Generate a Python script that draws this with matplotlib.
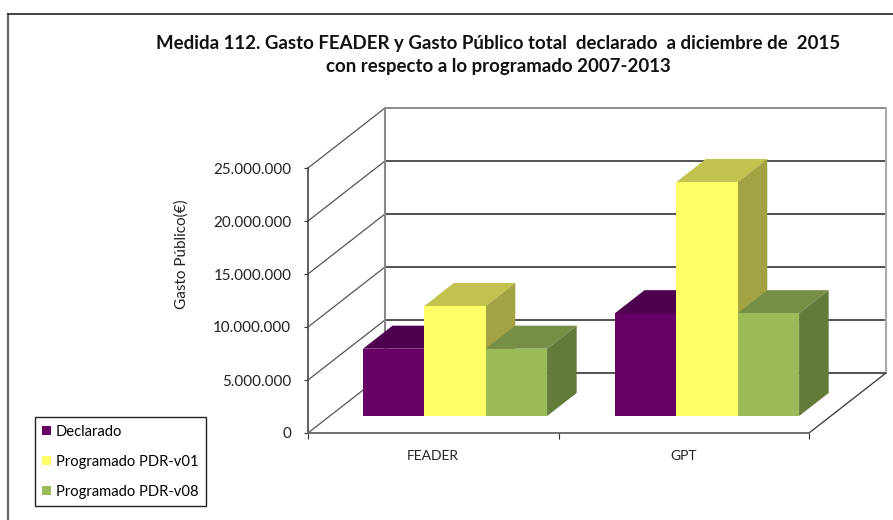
import matplotlib
matplotlib.use('Agg')
import matplotlib.pyplot as plt
from matplotlib.patches import Patch
from matplotlib.ticker import FuncFormatter

categories = ['FEADER', 'GPT']
declarado = [6350000, 9700000]
programado_v01 = [10380000, 22080000]
programado_v08 = [6350000, 9700000]
series_names = ['Declarado', 'Programado PDR-v01', 'Programado PDR-v08']
y_ticks = [0, 5000000, 10000000, 15000000, 20000000, 25000000]

W, H = 893, 520
plt.rcParams['font.family'] = ['Lato', 'DejaVu Sans']

fig = plt.figure(figsize=(W / 100, H / 100), dpi=100)

# front plane of the fake 3d box, in pixels
left, right, bottom, top = 308, 809, 433, 168
ax = fig.add_axes([left / W, 1 - bottom / H, (right - left) / W, (bottom - top) / H])
ax.set_xlim(0, 2)
ax.set_ylim(0, 25000000)
ax.patch.set_visible(False)
for s in ['top', 'right']:
    ax.spines[s].set_visible(False)
ax.spines['left'].set_color('#444444')
ax.spines['left'].set_linewidth(1.2)
ax.spines['bottom'].set_color('#666666')
ax.spines['bottom'].set_linewidth(1.3)

# depth vector, 77px right and 60px up
dx = 77 / (right - left) * 2
dy = 60 / (bottom - top) * 25000000


def proj(x, y, d):
    return x + d * dx, y + d * dy


for t in y_ticks:
    x0, y0 = proj(0, t, 0)
    x1, y1 = proj(0, t, 1)
    x2, y2 = proj(2, t, 1)
    ax.plot([x0, x1], [y0, y1], color='#555555', lw=0.9, clip_on=False, zorder=1)
    col = '#777777' if t == 25000000 else '#333333'
    ax.plot([x1, x2], [y1, y2], color=col, lw=1.2, clip_on=False, zorder=1)
# back wall verticals and floor edge
ax.plot(*zip(proj(0, 0, 1), proj(0, 25000000, 1)), color='#888888', lw=1.5, clip_on=False, zorder=1)
ax.plot(*zip(proj(2, 0, 1), proj(2, 25000000, 1)), color='#aaaaaa', lw=1.5, clip_on=False, zorder=1)
ax.plot(*zip(proj(2, 0, 0), proj(2, 0, 1)), color='#333333', lw=0.9, clip_on=False, zorder=1)

face_cols = ['#660066', '#FFFF66', '#9BBB59']
top_cols = ['#4D004D', '#C2C24E', '#778F45']
side_cols = ['#4D004D', '#A3A344', '#647A38']
bar_w = 0.245
d0, d1 = 0.283, 0.667
group_centers = [0.5, 1.506]  # the second group sits a hair right in the original


def draw_bar(x, v, i):
    xa, xb = x, x + bar_w
    # front, top and side faces, zorder rises so later bars cover earlier ones
    fr = [proj(xa, 0, d0), proj(xb, 0, d0), proj(xb, v, d0), proj(xa, v, d0)]
    tp = [proj(xa, v, d0), proj(xb, v, d0), proj(xb, v, d1), proj(xa, v, d1)]
    sd = [proj(xb, 0, d0), proj(xb, 0, d1), proj(xb, v, d1), proj(xb, v, d0)]
    z = 2 + i
    ax.fill(*zip(*tp), color=top_cols[i], lw=0, clip_on=False, zorder=z)
    ax.fill(*zip(*sd), color=side_cols[i], lw=0, clip_on=False, zorder=z)
    ax.fill(*zip(*fr), color=face_cols[i], lw=0, clip_on=False, zorder=z + 0.5)


for c in range(len(categories)):
    start = group_centers[c] - 1.5 * bar_w
    for i, vals in enumerate([declarado, programado_v01, programado_v08]):
        draw_bar(start + i * bar_w, vals[c], i)

ax.set_xticks([0, 1, 2])
ax.set_xticklabels([])
ax.set_xticks([0.5, 1.5], categories, minor=True)
ax.tick_params(axis='x', which='minor', length=0, labelsize=10, pad=12, labelcolor='#222222')
ax.tick_params(axis='x', which='major', length=4, color='#333333', direction='out')
ax.set_yticks(y_ticks)
ax.yaxis.set_major_formatter(FuncFormatter(lambda v, p: f'{int(v):,}'.replace(',', '.')))
ax.tick_params(axis='y', length=3, color='#333333', labelsize=10.9, pad=9, labelcolor='#222222')

fig.text(182 / W, 1 - 254 / H, 'Gasto Público(€)', rotation=90, ha='center', va='center',
         fontsize=11, color='#222222')
fig.text(498 / W, 1 - 55 / H,
         'Medida 112. Gasto FEADER y Gasto Público total  declarado  a diciembre de  2015\n'
         'con respecto a lo programado 2007-2013',
         ha='center', va='center', fontsize=13.4, fontweight='bold', color='#111111', linespacing=1.4)

handles = [Patch(facecolor=col, edgecolor='none') for col in face_cols]
leg = fig.legend(handles, series_names, loc='lower left',
                 bbox_to_anchor=(34.5 / W, 1 - 506 / H), bbox_transform=fig.transFigure,
                 fontsize=10.6, frameon=True, fancybox=False, edgecolor='#222222', framealpha=1,
                 handlelength=0.62, handleheight=0.62, handletextpad=0.34, labelspacing=1.08,
                 borderpad=0.5, borderaxespad=0)
leg.get_frame().set_linewidth(1.0)

# outer chart frame
fig.add_artist(plt.Line2D([7.5 / W, 7.5 / W], [0, 1 - 13.5 / H], color='#666666', lw=1.6))
fig.add_artist(plt.Line2D([7.5 / W, 1], [1 - 13.5 / H, 1 - 13.5 / H], color='#333333', lw=1.3))

fig.savefig('out.png', dpi=100)
